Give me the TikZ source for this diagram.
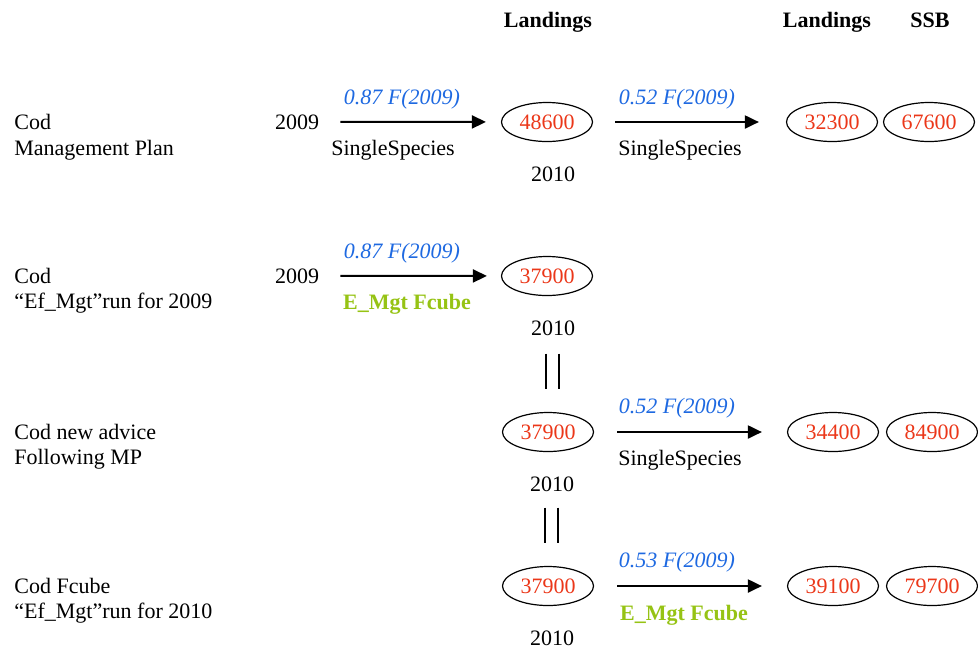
\documentclass[tikz,border=0pt]{standalone}
\usepackage{fontspec}
\setmainfont{Liberation Serif}
\usetikzlibrary{arrows.meta,shapes.geometric}

\definecolor{rateblue}{RGB}{30,105,225}
\definecolor{valred}{RGB}{235,55,25}
\definecolor{fcgreen}{RGB}{150,195,20}

\newcommand*{\txtsize}{\fontsize{11}{13}\selectfont}
\newcommand*{\lftx}{14}

\begin{document}
\begin{tikzpicture}
[
	x=0.5pt, y=-0.5pt,
	txt/.style={inner sep=0pt, anchor=base, font=\txtsize},
	rowname/.style={inner sep=0pt, anchor=base west, font=\txtsize},
	head/.style={txt, font=\txtsize\bfseries},
	rate/.style={txt, text=rateblue, font=\txtsize\itshape},
	model/.style={txt, text=fcgreen, font=\txtsize\bfseries},
	catch/.style={ellipse, draw, line width=0.6pt, inner sep=0pt,
		minimum width=45.5pt, minimum height=19.5pt, text=valred, font=\txtsize},
	flow/.style={-{Triangle[length=7pt,width=6.5pt]}, line width=1pt},
	eqbar/.style={line width=0.7pt}
]
	\useasboundingbox (0,0) rectangle (978,649);

	% column heads
	\node[head] (hland) at (548,27) {Landings};
	\node[head] (hland2) at (827,27) {Landings};
	\node[head] (hssb) at (930,27) {SSB};

	% management plan
	\node[rowname] (nA1) at (\lftx,129) {Cod};
	\node[rowname] (nA2) at (\lftx,155) {Management Plan};
	\node[txt] (yrA) at (297,129) {2009};
	\node[catch] (eA1) at (547,122) {48600};
	\node[txt] (yA) at (553,181) {2010};
	\node[catch] (eA2) at (832,122) {32300};
	\node[catch] (eA3) at (929,122) {67600};
	\node[rate] (rA1) at (402,104) {0.87 F(2009)};
	\node[txt] (mA1) at (393,155) {SingleSpecies};
	\node[rate] (rA2) at (677,104) {0.52 F(2009)};
	\node[txt] (mA2) at (680,155) {SingleSpecies};
	\draw[flow, shorten <=10.5pt, shorten >=7.5pt] (yrA) -- (eA1);
	\draw[flow, shorten <=11pt, shorten >=13.5pt] (eA1) -- (eA2);

	% Ef_Mgt run 2009
	\node[rowname] (nB1) at (\lftx,283) {Cod};
	\node[rowname] (nB2) at (\lftx,308) {“Ef\_Mgt”run for 2009};
	\node[txt] (yrB) at (297,283) {2009};
	\node[catch] (eB1) at (547,276) {37900};
	\node[txt] (yB) at (553,335) {2010};
	\node[rate] (rB1) at (402,258) {0.87 F(2009)};
	\node[model] (mB1) at (407,309) {E\_Mgt Fcube};
	\draw[flow, shorten <=10.5pt, shorten >=7pt] (yrB) -- (eB1);

	% new advice
	\node[rowname] (nC1) at (\lftx,439) {Cod new advice};
	\node[rowname] (nC2) at (\lftx,464) {Following MP};
	\node[catch] (eC1) at (548,432) {37900};
	\node[txt] (yC) at (552,491) {2010};
	\node[catch] (eC2) at (833,432) {34400};
	\node[catch] (eC3) at (932,432) {84900};
	\node[rate] (rC1) at (677,413) {0.52 F(2009)};
	\node[txt] (mC1) at (680,465) {SingleSpecies};
	\draw[flow, shorten <=11.5pt, shorten >=12.5pt] (eC1) -- (eC2);

	% Fcube run 2010
	\node[rowname] (nD1) at (\lftx,593) {Cod Fcube};
	\node[rowname] (nD2) at (\lftx,618) {“Ef\_Mgt”run for 2010};
	\node[catch] (eD1) at (548,586) {37900};
	\node[txt] (yD) at (552,645) {2010};
	\node[catch] (eD2) at (833,586) {39100};
	\node[catch] (eD3) at (932,586) {79700};
	\node[rate] (rD1) at (677,567) {0.53 F(2009)};
	\node[model] (mD1) at (684,620) {E\_Mgt Fcube};
	\draw[flow, shorten <=11.5pt, shorten >=12.5pt] (eD1) -- (eD2);

	% equal bars
	\foreach \dx in {-3.5pt,3pt} {
		\draw[eqbar] ([xshift=\dx,yshift=-9pt]yB.south) -- ++(0,35);
		\draw[eqbar] ([xshift=\dx,yshift=-8pt]yC.south) -- ++(0,35);
	}

\end{tikzpicture}
\end{document}
